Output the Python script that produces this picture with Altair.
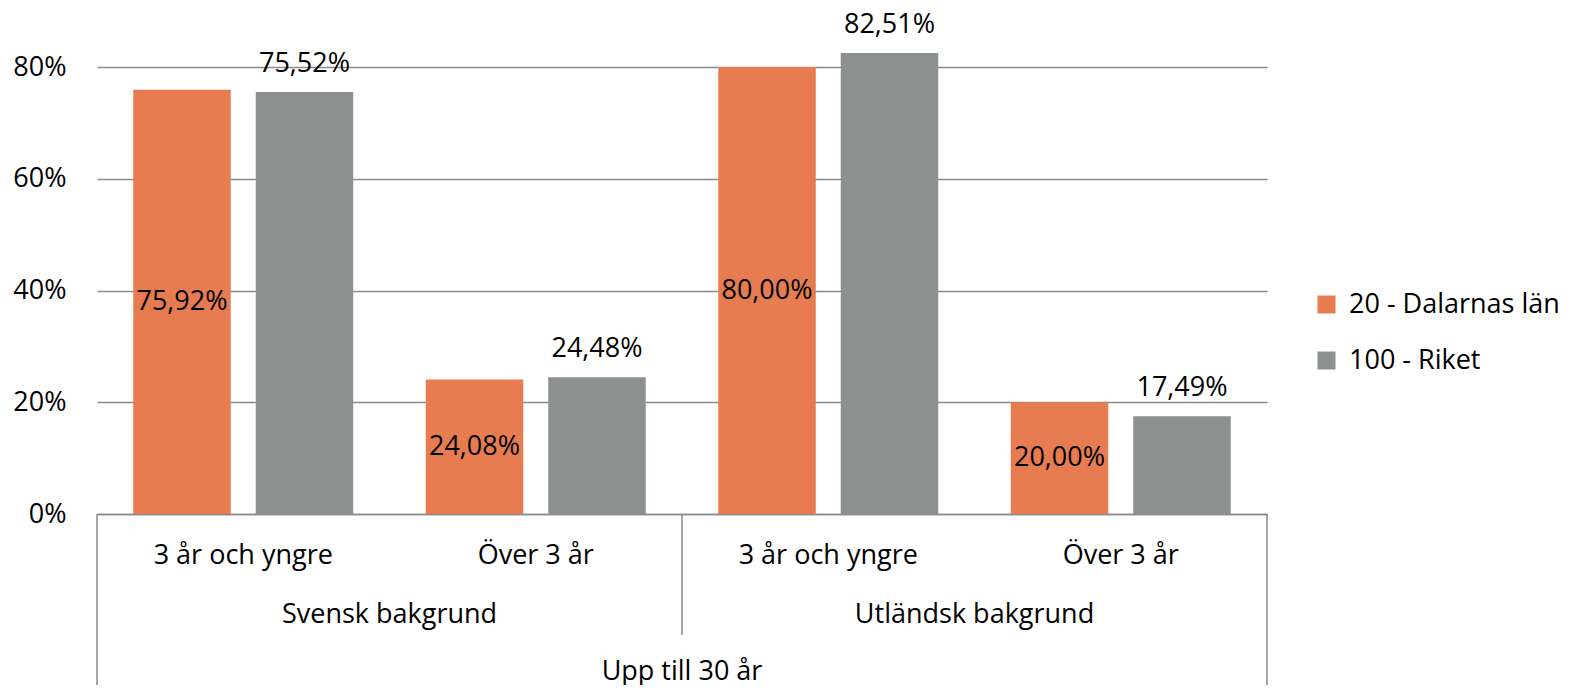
import altair as alt
import pandas as pd

groups = ["Svensk bakgrund", "Svensk bakgrund", "Utländsk bakgrund", "Utländsk bakgrund"]
subcats = ["3 år och yngre", "Över 3 år", "3 år och yngre", "Över 3 år"]
top_label = "Upp till 30 år"
series = ["20 - Dalarnas län", "100 - Riket"]
dalarna = [75.92, 24.08, 80.00, 20.00]
riket = [75.52, 24.48, 82.51, 17.49]
colors = ["#E67C50", "#8C918F"]
y_ticks = [0, 20, 40, 60, 80]

keys = [f"{g}|{s}" for g, s in zip(groups, subcats)]
rows = []
for k, g, s, a, b in zip(keys, groups, subcats, dalarna, riket):
    for ser, v in zip(series, [a, b]):
        rows.append({"key": k, "group": g, "sub": s, "series": ser, "value": v,
                     "half": v / 2, "label": f"{v:.2f}".replace(".", ",") + "%"})
df = pd.DataFrame(rows)

FONT = "Open Sans"
FS = 27
W, H = 1170, 506
GRID = "#8a8a8a"

xscale = alt.Scale(domain=keys, paddingInner=0, paddingOuter=0)
yscale = alt.Scale(domain=[0, 90.56], nice=False, zero=True)
xoff = alt.XOffset("series:N", scale=alt.Scale(domain=series, paddingInner=0.204, paddingOuter=0.296))

base = alt.Chart(df)

bars = base.mark_bar().encode(
    x=alt.X("key:N", scale=xscale, sort=keys, title=None,
            axis=alt.Axis(labelExpr="split(datum.value, '|')[1]", ticks=False, domain=True,
                          domainColor=GRID, domainWidth=1.5, labelAngle=0, labelPadding=41,
                          labelBaseline="middle", labelFontSize=FS, labelFont=FONT,
                          labelColor="#000000", grid=False)),
    xOffset=xoff,
    y=alt.Y("value:Q", scale=yscale, title=None,
            axis=alt.Axis(values=y_ticks, labelExpr="datum.value + '%'", ticks=False, domain=False,
                          grid=True, gridColor=GRID, gridWidth=1.5, labelPadding=31,
                          labelFontSize=FS, labelFont=FONT, labelColor="#000000")),
    color=alt.Color("series:N", scale=alt.Scale(domain=series, range=colors), title=None,
                    legend=alt.Legend(orient="none", legendX=1216, legendY=283, symbolType="square",
                                      symbolSize=324, symbolStrokeWidth=0, labelFontSize=FS,
                                      labelFont=FONT, labelColor="#000000", rowPadding=28,
                                      labelOffset=9, padding=0, labelLimit=400)),
)

inside = base.transform_filter(alt.datum.series == series[0]).mark_text(
    font=FONT, fontSize=FS, baseline="middle", color="#000000"
).encode(
    x=alt.X("key:N", scale=xscale, sort=keys),
    xOffset=xoff,
    y=alt.Y("half:Q", scale=yscale),
    text="label:N",
)

above = base.transform_filter(alt.datum.series == series[1]).mark_text(
    font=FONT, fontSize=FS, baseline="alphabetic", dy=-20, color="#000000"
).encode(
    x=alt.X("key:N", scale=xscale, sort=keys),
    xOffset=xoff,
    y=alt.Y("value:Q", scale=yscale),
    text="label:N",
)

sep_df = pd.DataFrame({"key": keys})
left_rule = alt.Chart(sep_df).transform_filter(alt.datum.key == keys[0]).mark_rule(
    color=GRID, strokeWidth=1.5).encode(
    x=alt.X("key:N", scale=xscale, sort=keys, bandPosition=0),
    y=alt.value(H), y2=alt.value(H + 180))
right_rule = alt.Chart(sep_df).transform_filter(alt.datum.key == keys[3]).mark_rule(
    color=GRID, strokeWidth=1.5).encode(
    x=alt.X("key:N", scale=xscale, sort=keys, bandPosition=1),
    y=alt.value(H), y2=alt.value(H + 180))
mid_rule = alt.Chart(sep_df).transform_filter(alt.datum.key == keys[2]).mark_rule(
    color=GRID, strokeWidth=1.5).encode(
    x=alt.X("key:N", scale=xscale, sort=keys, bandPosition=0),
    y=alt.value(H), y2=alt.value(H + 121))

grp_df = pd.DataFrame({"key": [keys[1], keys[3]], "group": [groups[0], groups[2]]})
grp_text = alt.Chart(grp_df).mark_text(font=FONT, fontSize=FS, baseline="middle", color="#000000").encode(
    x=alt.X("key:N", scale=xscale, sort=keys, bandPosition=0),
    y=alt.value(H + 101),
    text="group:N")

top_df = pd.DataFrame({"key": [keys[2]], "label": [top_label]})
top_text = alt.Chart(top_df).mark_text(font=FONT, fontSize=FS, baseline="middle", color="#000000").encode(
    x=alt.X("key:N", scale=xscale, sort=keys, bandPosition=0),
    y=alt.value(H + 158),
    text="label:N")

chart = alt.layer(bars, inside, above, left_rule, right_rule, mid_rule, grp_text, top_text).properties(
    width=W, height=H,
    autosize=alt.AutoSizeParams(type="none"),
    padding={"left": 89, "top": 0, "right": 296, "bottom": 171},
    background="#ffffff",
).configure_view(stroke=None)

chart.save("out.html", embed_options={"renderer": "svg", "actions": False})
